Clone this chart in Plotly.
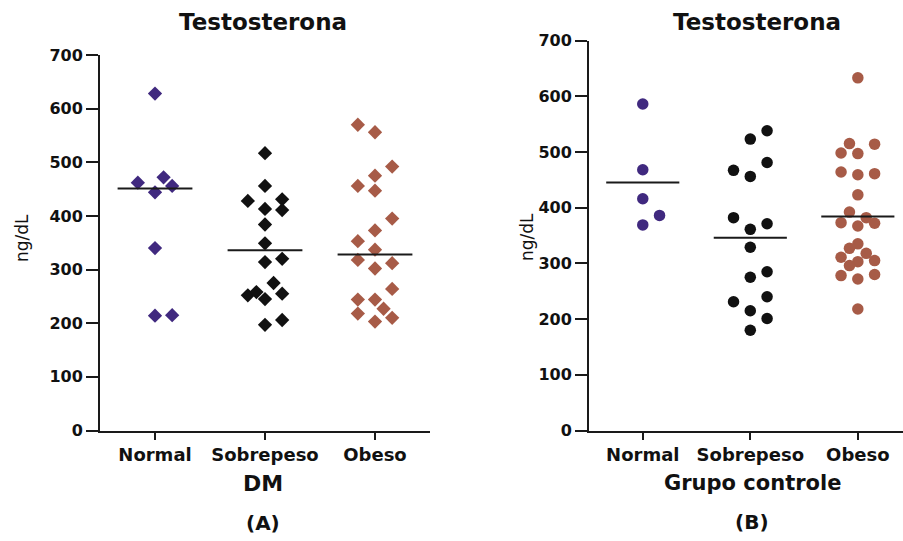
import plotly.graph_objects as go

# ---------------- data ----------------
categories = ["Normal", "Sobrepeso", "Obeso"]

dm_normal = [628, 462, 472, 456, 444, 340, 214, 215]
dm_normal_jit = [0, -2, 1, 2, 0, 0, 0, 2]
dm_sobrepeso = [517, 456, 428, 431, 413, 411, 384, 349, 314, 320, 275, 252, 258, 245, 255, 197, 206]
dm_sobrepeso_jit = [0, 0, -2, 2, 0, 2, 0, 0, 0, 2, 1, -2, -1, 0, 2, 0, 2]
dm_obeso = [570, 556, 492, 475, 456, 447, 395, 373, 353, 337, 318, 312, 302, 264, 244, 244, 227, 218, 203, 210]
dm_obeso_jit = [-2, 0, 2, 0, -2, 0, 2, 0, -2, 0, -2, 2, 0, 2, -2, 0, 1, -2, 0, 2]
dm_center = [451, 336, 328]

ctrl_normal = [586, 468, 416, 386, 369]
ctrl_normal_jit = [0, 0, 0, 2, 0]
ctrl_sobrepeso = [538, 523, 481, 467, 456, 382, 371, 361, 329, 285, 275, 240, 231, 215, 201, 180]
ctrl_sobrepeso_jit = [2, 0, 2, -2, 0, -2, 2, 0, 0, 2, 0, 2, -2, 0, 2, 0]
ctrl_obeso = [633, 515, 514, 498, 497, 464, 459, 461, 423, 392, 382, 373, 367, 372, 335, 327, 318,
              311, 303, 305, 296, 278, 272, 280, 218]
ctrl_obeso_jit = [0, -1, 2, -2, 0, -2, 0, 2, 0, -1, 1, -2, 0, 2, 0, -1, 1, -2, 0, 2, -1, -2, 0, 2, 0]
ctrl_center = [445, 346, 384]

y_ticks = [0, 100, 200, 300, 400, 500, 600, 700]

# ---------------- styling ----------------
W, H = 903, 541
PURPLE = "#40297f"
BLACK = "#111111"
BROWN = "#a75b47"
AXC = "#1a1a1a"
FONT = "DejaVu Sans"
STEP = 0.078
HALF = 0.34

fig = go.Figure()

def add_group(vals, jit, idx, color, symbol, size, xa, ya):
    fig.add_trace(go.Scatter(
        x=[idx + j * STEP for j in jit], y=vals, mode="markers",
        marker=dict(symbol=symbol, size=size, color=color, line=dict(width=0)),
        xaxis=xa, yaxis=ya, showlegend=False, hoverinfo="y"))

groups_dm = [(dm_normal, dm_normal_jit, PURPLE), (dm_sobrepeso, dm_sobrepeso_jit, BLACK),
             (dm_obeso, dm_obeso_jit, BROWN)]
groups_ctrl = [(ctrl_normal, ctrl_normal_jit, PURPLE), (ctrl_sobrepeso, ctrl_sobrepeso_jit, BLACK),
               (ctrl_obeso, ctrl_obeso_jit, BROWN)]

for i, (v, j, c) in enumerate(groups_dm):
    add_group(v, j, i, c, "diamond", 11, "x", "y")
for i, (v, j, c) in enumerate(groups_ctrl):
    add_group(v, j, i, c, "circle", 11.5, "x2", "y2")

for i, c in enumerate(dm_center):
    fig.add_trace(go.Scatter(x=[i - HALF, i + HALF], y=[c, c], mode="lines",
                             line=dict(color=AXC, width=2), xaxis="x", yaxis="y",
                             showlegend=False, hoverinfo="skip"))
for i, c in enumerate(ctrl_center):
    fig.add_trace(go.Scatter(x=[i - HALF, i + HALF], y=[c, c], mode="lines",
                             line=dict(color=AXC, width=2), xaxis="x2", yaxis="y2",
                             showlegend=False, hoverinfo="skip"))

xcommon = dict(tickmode="array", tickvals=[0, 1, 2], ticktext=categories, automargin=False,
               showline=True, linecolor=AXC, linewidth=2, ticks="outside",
               ticklen=7, tickwidth=2, tickcolor=AXC, showgrid=False, zeroline=False,
               tickfont=dict(family=FONT, size=18, color="#111111", weight="bold"))
ycommon = dict(range=[0, 700], tickmode="array", tickvals=y_ticks, automargin=False,
               showline=True, linecolor=AXC, linewidth=2, ticks="outside",
               ticklen=12, tickwidth=2, tickcolor=AXC, showgrid=False, zeroline=False,
               tickfont=dict(family=FONT, size=16, color="#111111", weight="bold"))

fig.update_layout(
    template="none",
    width=W, height=H, margin=dict(l=0, r=0, t=0, b=0, pad=0),
    paper_bgcolor="white", plot_bgcolor="white",
    xaxis=dict(domain=[100 / W, 430 / W], range=[-0.5, 2.5], anchor="y", **xcommon),
    yaxis=dict(domain=[(H - 430.5) / H, (H - 55) / H], anchor="x", **ycommon),
    xaxis2=dict(domain=[589 / W, 1.0], range=[-0.5, 2.42], anchor="y2", **xcommon),
    yaxis2=dict(domain=[(H - 430.5) / H, (H - 40.5) / H], anchor="x2", **ycommon),
)

def ann(text, px, py, size, bold=True, angle=0):
    fig.add_annotation(text=text, x=px / W, y=1 - py / H, xref="paper", yref="paper",
                       xanchor="center", yanchor="middle", showarrow=False, textangle=angle,
                       font=dict(family=FONT, size=size, color="#111111",
                                 weight="bold" if bold else "normal"))

ann("Testosterona", 263, 22, 23)
ann("Testosterona", 757, 22, 23)
ann("DM", 263, 483, 22)
ann("Grupo controle", 752, 483, 21)
ann("(A)", 263, 523, 20)
ann("(B)", 752, 522, 20)
ann("ng/dL", 22, 238, 17, bold=False, angle=-90)
ann("ng/dL", 527, 237, 17, bold=False, angle=-90)

fig.write_html("out.html")
